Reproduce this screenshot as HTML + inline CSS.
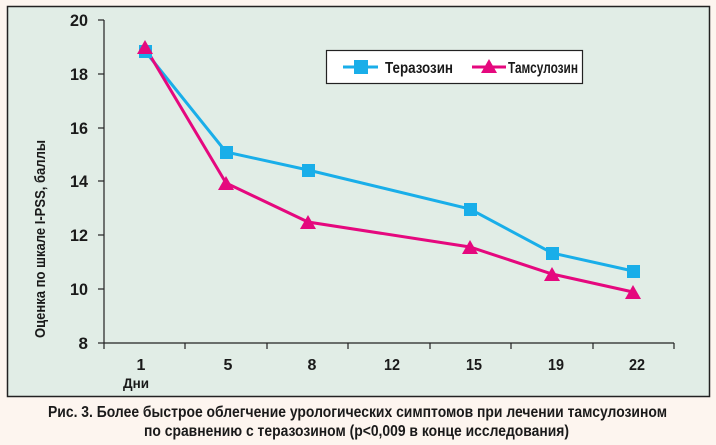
<!DOCTYPE html>
<html><head><meta charset="utf-8"><style>
html,body{margin:0;padding:0;background:#fdf5ef;}
svg{display:block}
text{font-family:"Liberation Sans Narrow","Liberation Sans",sans-serif;font-weight:bold;fill:#1a1a1a}
</style></head><body>
<svg width="716" height="445" viewBox="0 0 716 445">
<rect x="0" y="0" width="716" height="445" fill="#fdf5ef"/>
<rect x="7.5" y="6.5" width="702" height="390" fill="#e1ede6" stroke="#222" stroke-width="1.5"/>
<g stroke="#222" stroke-width="1.2" fill="none">
<line x1="104" y1="20" x2="104" y2="343"/>
<line x1="104" y1="343" x2="674" y2="343"/>
<line x1="98" y1="20" x2="104" y2="20"/>
<line x1="98" y1="74" x2="104" y2="74"/>
<line x1="98" y1="128" x2="104" y2="128"/>
<line x1="98" y1="181" x2="104" y2="181"/>
<line x1="98" y1="235" x2="104" y2="235"/>
<line x1="98" y1="289" x2="104" y2="289"/>
<line x1="98" y1="343" x2="104" y2="343"/>
<line x1="104" y1="343" x2="104" y2="349"/>
<line x1="185" y1="343" x2="185" y2="349"/>
<line x1="267" y1="343" x2="267" y2="349"/>
<line x1="348" y1="343" x2="348" y2="349"/>
<line x1="430" y1="343" x2="430" y2="349"/>
<line x1="511" y1="343" x2="511" y2="349"/>
<line x1="593" y1="343" x2="593" y2="349"/>
<line x1="674" y1="343" x2="674" y2="349"/>
</g>
<g font-size="17" text-anchor="end">
<text x="88" y="26" textLength="18" lengthAdjust="spacingAndGlyphs">20</text>
<text x="88" y="80" textLength="18" lengthAdjust="spacingAndGlyphs">18</text>
<text x="88" y="134" textLength="18" lengthAdjust="spacingAndGlyphs">16</text>
<text x="88" y="187" textLength="18" lengthAdjust="spacingAndGlyphs">14</text>
<text x="88" y="241" textLength="18" lengthAdjust="spacingAndGlyphs">12</text>
<text x="88" y="295" textLength="18" lengthAdjust="spacingAndGlyphs">10</text>
<text x="88" y="349">8</text>
</g>
<g font-size="16" text-anchor="middle">
<text x="141" y="370">1</text>
<text x="228" y="370">5</text>
<text x="312" y="370">8</text>
<text x="392" y="370" textLength="16" lengthAdjust="spacingAndGlyphs">12</text>
<text x="474" y="370" textLength="16" lengthAdjust="spacingAndGlyphs">15</text>
<text x="556" y="370" textLength="16" lengthAdjust="spacingAndGlyphs">19</text>
<text x="637" y="370" textLength="16" lengthAdjust="spacingAndGlyphs">22</text>
</g>
<text x="123" y="388" font-size="14" textLength="26" lengthAdjust="spacingAndGlyphs">Дни</text>
<text transform="translate(45,239) rotate(-90)" font-size="15" text-anchor="middle" textLength="198" lengthAdjust="spacingAndGlyphs">Оценка по шкале I-PSS, баллы</text>
<polyline points="145,51 226,152 308,170 470,209 552,253 633,271" fill="none" stroke="#19aee9" stroke-width="3"/>
<polyline points="145,47 226,183 308,222 470,247 552,274 633,292" fill="none" stroke="#e5087e" stroke-width="3"/>
<g fill="#19aee9">
<rect x="139" y="45" width="13" height="13"/><rect x="220" y="146" width="13" height="13"/>
<rect x="302" y="164" width="13" height="13"/><rect x="464" y="203" width="13" height="13"/>
<rect x="546" y="247" width="13" height="13"/><rect x="627" y="265" width="13" height="13"/>
</g>
<g fill="#e5087e">
<polygon points="145,40 137,54 153,54"/><polygon points="226,176 218,190 234,190"/>
<polygon points="308,215 300,229 316,229"/><polygon points="470,240 462,254 478,254"/>
<polygon points="552,267 544,281 560,281"/><polygon points="633,285 625,299 641,299"/>
</g>
<rect x="326.5" y="50.5" width="256" height="33" fill="#fff" stroke="#222" stroke-width="1.2"/>
<line x1="343" y1="67" x2="378" y2="67" stroke="#19aee9" stroke-width="3"/>
<rect x="354" y="60" width="14" height="14" fill="#19aee9"/>
<text x="385" y="73" font-size="16" textLength="68" lengthAdjust="spacingAndGlyphs">Теразозин</text>
<line x1="472" y1="67" x2="506" y2="67" stroke="#e5087e" stroke-width="3"/>
<polygon points="489,59 481,73 497,73" fill="#e5087e"/>
<text x="508" y="73" font-size="16" textLength="70" lengthAdjust="spacingAndGlyphs">Тамсулозин</text>
<text x="48" y="417" font-size="16" textLength="619" lengthAdjust="spacingAndGlyphs">Рис. 3. Более быстрое облегчение урологических симптомов при лечении тамсулозином</text>
<text x="144" y="436" font-size="16" textLength="425" lengthAdjust="spacingAndGlyphs">по сравнению с теразозином (p&lt;0,009 в конце исследования)</text>
</svg>
</body></html>
